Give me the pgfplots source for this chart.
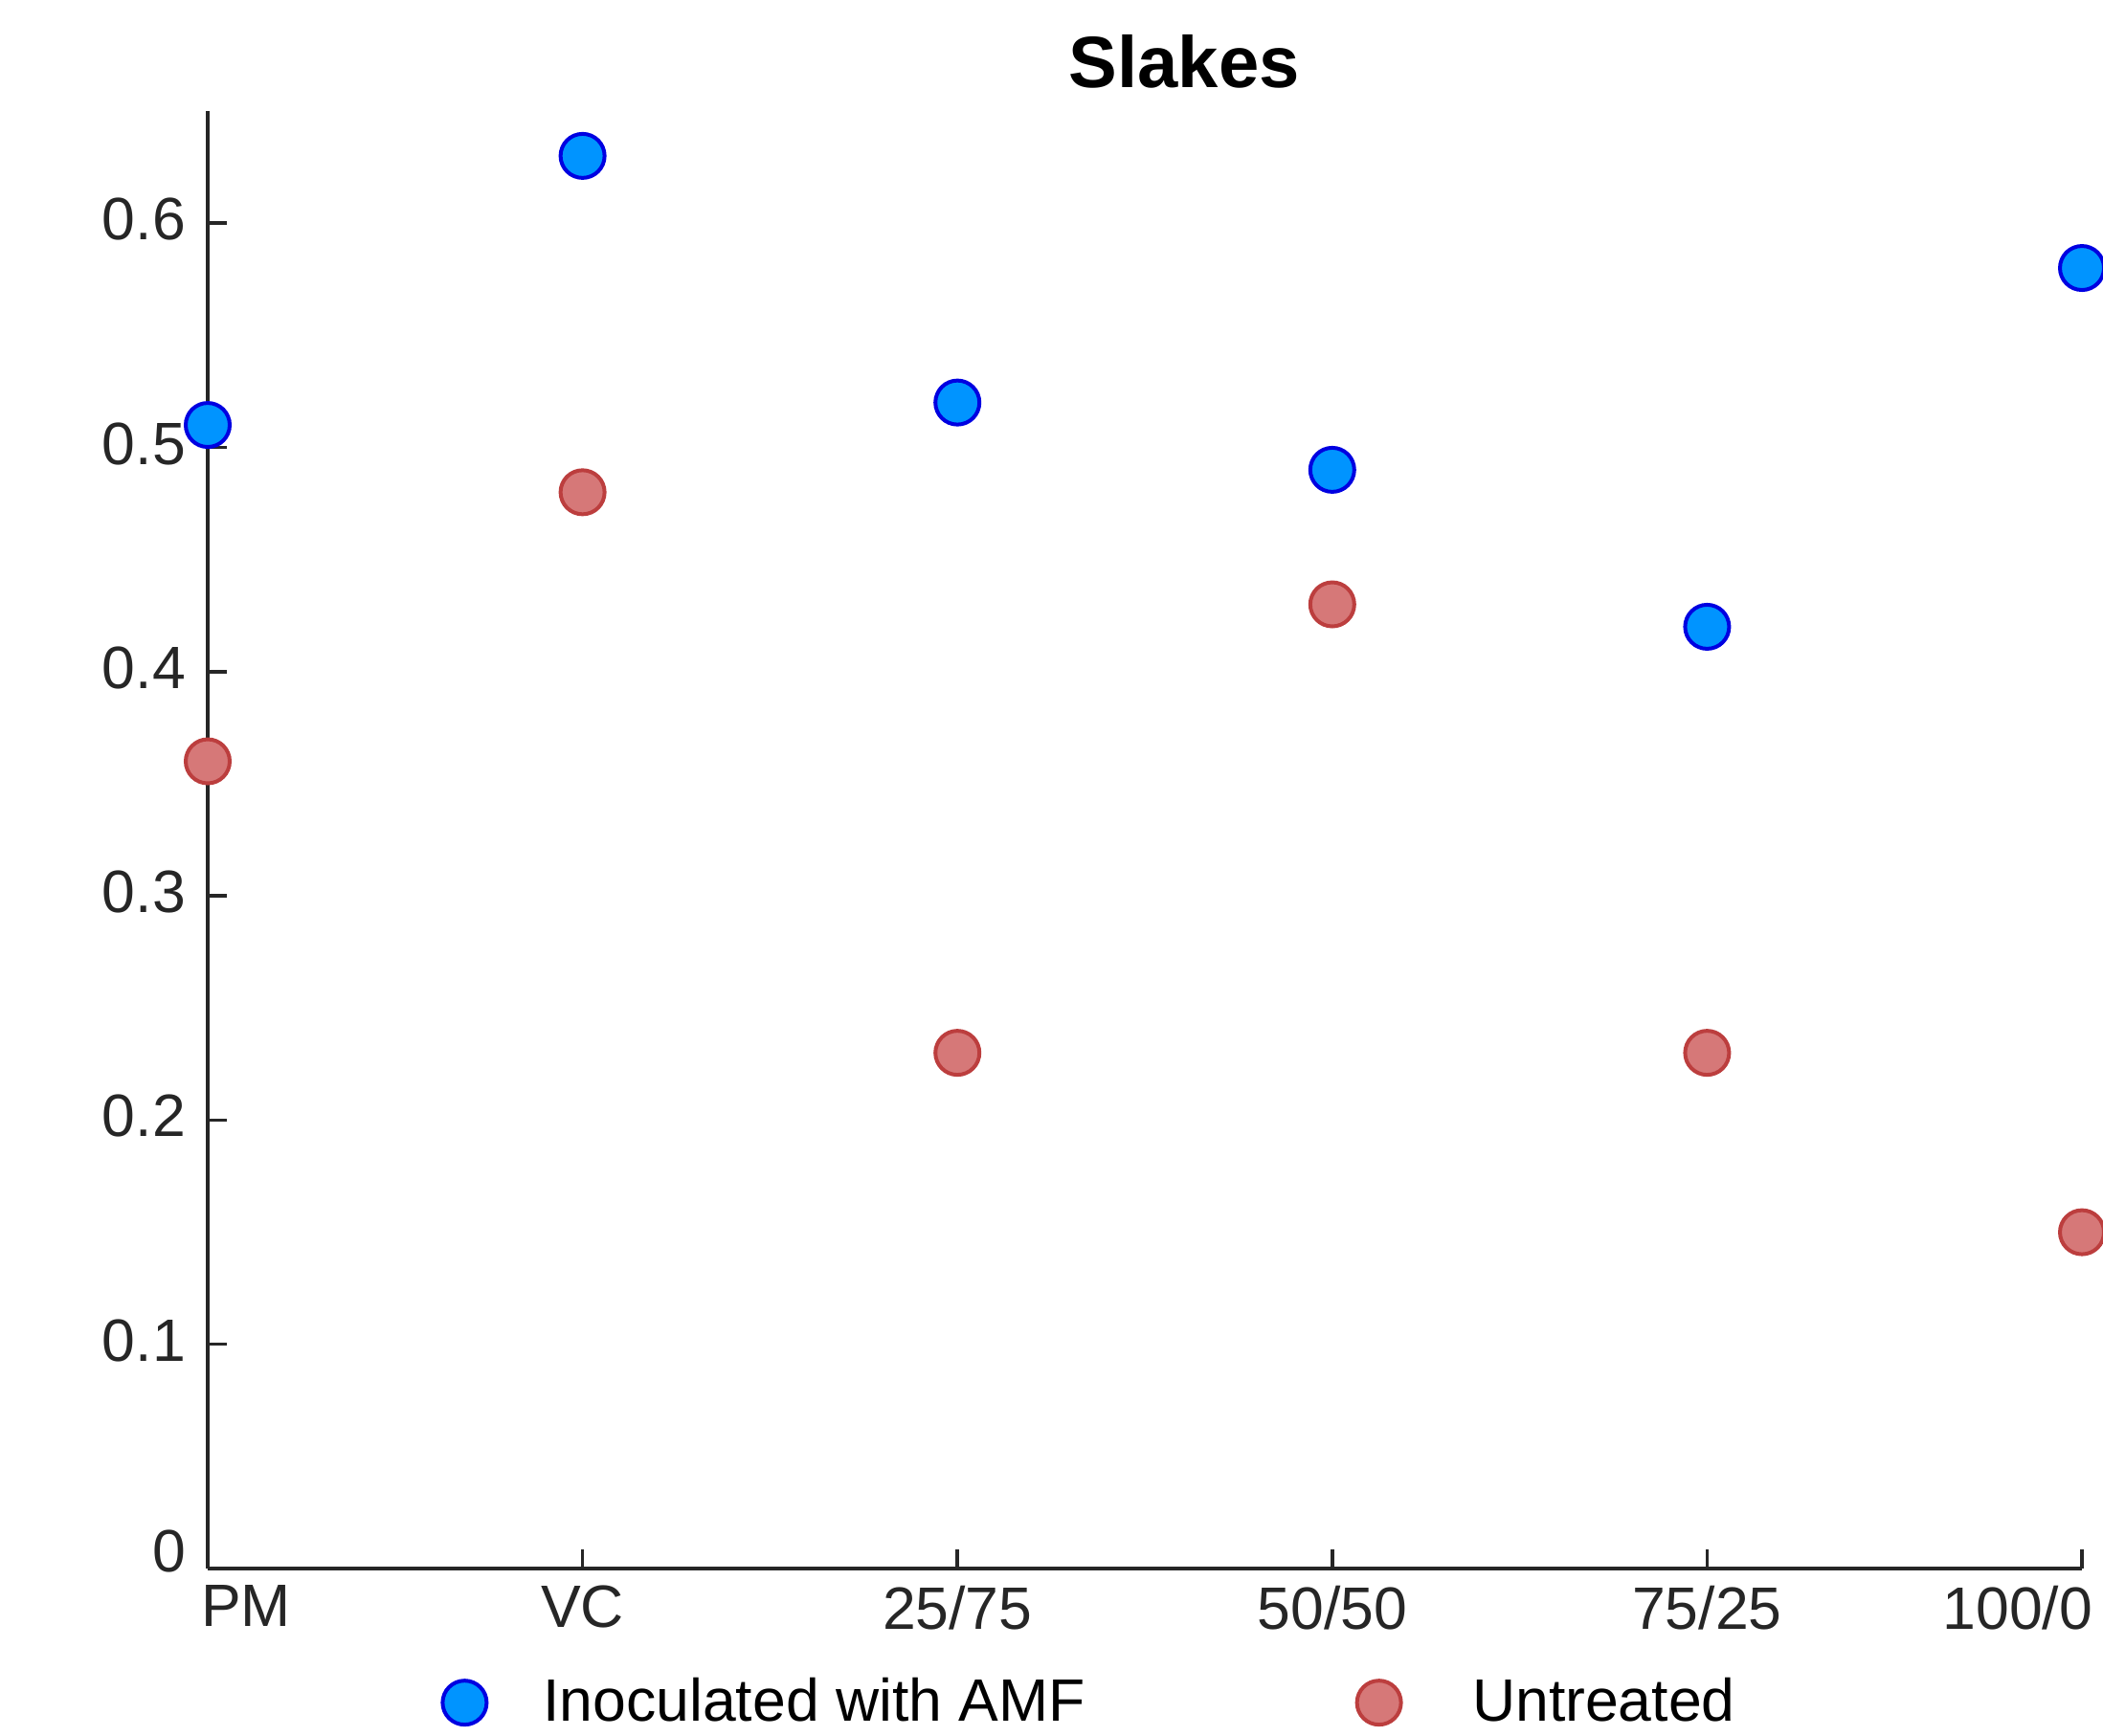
\documentclass[border=0pt]{standalone}
\usepackage{fontspec}
\setmainfont{Liberation Sans}
\usepackage{pgfplots}
\pgfplotsset{compat=1.18}
\definecolor{bluefill}{RGB}{0,148,255}
\definecolor{blueedge}{RGB}{0,0,225}
\definecolor{redfill}{RGB}{214,120,120}
\definecolor{rededge}{RGB}{188,62,62}
\definecolor{axgray}{RGB}{38,38,38}
\begin{document}
\begin{tikzpicture}
\path[use as bounding box] (-43.4pt,-34.8pt) rectangle (395.99pt,327.8pt);
\begin{axis}[
 at={(0,0)}, anchor=south west,
 scale only axis, width=391.6pt, height=304.6pt,
 xmin=0, xmax=5, ymin=0, ymax=0.65,
 clip=false,
 axis x line*=bottom, axis y line*=left,
 axis line style={-, axgray, line width=0.8pt},
 tick style={axgray, line width=0.7pt},
 major tick length=4pt,
 tick align=inside,
 xtick={0,1,2,3,4,5},
 xticklabels={\makebox[0pt][l]{\hspace{-1.4pt}PM}, VC, 25/75, 50/50, 75/25, \makebox[0pt][r]{100/0\hspace{-2.2pt}}},
 ytick={0,0.1,0.2,0.3,0.4,0.5,0.6},
 yticklabels={\raisebox{2.8pt}[\height][\depth]{0}, 0.1, 0.2, 0.3, 0.4, 0.5, 0.6},
 ticklabel style={font=\fontsize{12.5}{15}\selectfont, text=axgray},
 yticklabel style={xshift=-1.1pt, yshift=0.8pt},
 title={Slakes},
 title style={font=\fontsize{15.2}{18}\selectfont\bfseries, at={(0.521,1)}, anchor=center, yshift=4.4pt},
 legend columns=2,
 legend style={draw=none, fill=none, inner sep=0pt, at={(0.0998,-0.092)}, anchor=west, font=\fontsize{12.5}{15}\selectfont, /tikz/every even column/.append style={column sep=45pt}},
 legend image code/.code={\path (0pt,0pt) (28.4pt,0pt); \draw[mark repeat=2,mark phase=2,#1] plot coordinates {(0pt,0pt)(14.2pt,0pt)(28.4pt,0pt)};},
]
\addplot[only marks, mark=*, mark size=4.6pt, mark options={fill=bluefill, draw=blueedge, line width=0.8pt}] coordinates {(0,0.51)(1,0.63)(2,0.52)(3,0.49)(4,0.42)(5,0.58)};
\addlegendentry{Inoculated with AMF}
\addplot[only marks, mark=*, mark size=4.6pt, mark options={fill=redfill, draw=rededge, line width=0.8pt}] coordinates {(0,0.36)(1,0.48)(2,0.23)(3,0.43)(4,0.23)(5,0.15)};
\addlegendentry{\hspace*{3.1pt}Untreated}
\end{axis}
\end{tikzpicture}
\end{document}
